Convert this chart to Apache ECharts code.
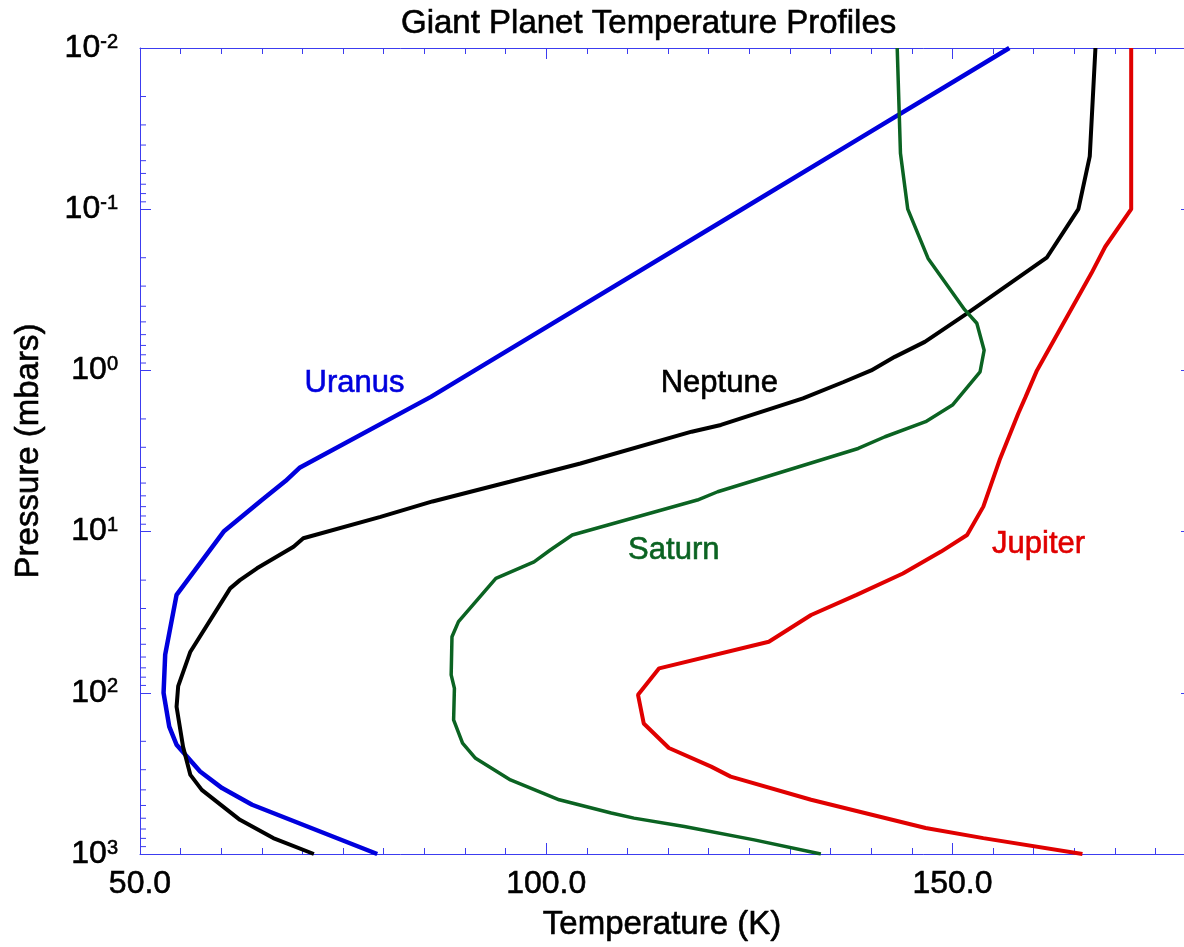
<!DOCTYPE html>
<html>
<head>
<meta charset="utf-8">
<script src="https://cdn.jsdelivr.net/npm/echarts@6/dist/echarts.min.js"></script>
<style>
html,body{margin:0;padding:0;background:#fff;}
#chart{width:1184px;height:947px;}
</style>
</head>
<body>
<div id="chart"></div>
<script>
// ---------------- data (pressure in mbar, temperature in K) ----------------
const uranusP = [0.01, 0.0373, 0.1, 1.0, 1.46, 4.0, 4.86, 6.37, 10, 24.7, 58, 100, 162, 210, 308, 390, 495, 1000];
const uranusT = [157.0, 138.2, 124.1, 91.2, 85.8, 69.7, 67.9, 65.0, 60.3, 54.5, 53.1, 52.9, 53.6, 54.5, 57.4, 60.1, 63.8, 79.2];

const neptuneP = [0.01, 0.047, 0.1, 0.2, 0.44, 0.665, 0.824, 1.0, 1.18, 1.49, 2.18, 2.40, 3.78, 4.91, 6.5, 8.1, 11, 12.4, 16.9, 20, 22.5, 55.6, 91, 122, 216, 323, 400, 614, 797, 1000];
const neptuneT = [167.6, 166.9, 165.5, 161.6, 151.9, 146.6, 142.9, 140.0, 136.6, 131.6, 121.5, 117.9, 104.2, 95.5, 86.0, 79.6, 70.1, 68.9, 64.4, 62.3, 61.1, 56.2, 54.7, 54.5, 55.3, 56.2, 57.6, 62.3, 66.4, 71.4];

const saturnP = [0.01, 0.045, 0.1, 0.202, 0.42, 0.51, 0.75, 1.02, 1.64, 2.08, 2.58, 3.05, 5.66, 6.37, 10.5, 13.0, 15.4, 19.5, 36.2, 44.9, 77.4, 93.8, 147, 205, 255, 347, 461, 557, 599, 676, 817, 1000];
const saturnT = [143.2, 143.6, 144.5, 147.0, 151.5, 153.0, 153.9, 153.4, 150.0, 146.7, 141.7, 138.4, 121.1, 118.6, 103.2, 100.5, 98.5, 93.8, 89.2, 88.4, 88.3, 88.7, 88.6, 89.7, 91.3, 95.6, 101.6, 108.0, 110.8, 117.0, 125.6, 133.8];

const jupiterP = [0.01, 0.1, 0.171, 0.25, 1.0, 1.46, 1.85, 3.6, 7.0, 10.5, 13.3, 18.2, 24.7, 32.9, 48.2, 70.5, 103, 155, 220, 287, 331, 461, 557, 690, 797, 1000];
const jupiterT = [172.0, 172.0, 168.8, 167.1, 160.4, 159.0, 158.1, 155.8, 153.8, 151.8, 148.6, 143.9, 138.2, 132.6, 127.4, 113.9, 111.3, 112.0, 115.1, 120.3, 122.7, 132.6, 139.2, 146.7, 153.8, 166.0];

const planetNames = ['Uranus', 'Neptune', 'Saturn', 'Jupiter'];
const xTickValues = [50, 100, 150];
const xTickLabels = ['50.0', '100.0', '150.0'];
const yDecades = [-2, -1, 0, 1, 2, 3];
const minorMultipliers = [2, 3, 4, 5, 6, 7, 8, 9];

// ---------------- styling / layout ----------------
const FONT = 'Liberation Sans, Arial, Helvetica, sans-serif';
const AX = '#3c3cf0';
const X_MIN = 50, X_MAX = 178.5;
const colors = {Uranus: '#0000dd', Neptune: '#000000', Saturn: '#0b6322', Jupiter: '#e00000'};
const widths = {Uranus: 4.5, Neptune: 4, Saturn: 3.5, Jupiter: 4};
// label anchor points in data coordinates [T, p]
const labelAnchors = {Uranus: [76.4, 1.2], Neptune: [121.3, 1.2], Saturn: [115.7, 13.0], Jupiter: [160.6, 12.1]};
const heavy = c => ({textBorderColor: c, textBorderWidth: 0.6});

const seriesData = {
  Uranus: uranusT.map((t, i) => [t, uranusP[i]]),
  Neptune: neptuneT.map((t, i) => [t, neptuneP[i]]),
  Saturn: saturnT.map((t, i) => [t, saturnP[i]]),
  Jupiter: jupiterT.map((t, i) => [t, jupiterP[i]])
};

// minor tick positions for the log axis
const minorTickVals = [];
yDecades.slice(0, -1).forEach(d => minorMultipliers.forEach(m => minorTickVals.push(m * Math.pow(10, d))));

const chart = echarts.init(document.getElementById('chart'), null, {renderer: 'canvas'});

const lineSeries = planetNames.map(name => ({
  name: name,
  type: 'line',
  xAxisIndex: 0,
  yAxisIndex: 0,
  data: seriesData[name],
  showSymbol: false,
  symbol: 'none',
  smooth: false,
  lineStyle: {color: colors[name], width: widths[name]},
  itemStyle: {color: colors[name]},
  z: 3,
  markPoint: {
    silent: true,
    symbol: 'circle',
    symbolSize: 1,
    itemStyle: {color: 'rgba(0,0,0,0)'},
    label: Object.assign({
      show: true, position: 'inside', formatter: name,
      color: colors[name], fontSize: 31, fontFamily: FONT
    }, heavy(colors[name])),
    data: [{coord: labelAnchors[name]}]
  }
}));

const tickSeries = {
  type: 'custom',
  xAxisIndex: 0,
  yAxisIndex: 0,
  silent: true,
  clip: false,
  z: 1,
  data: minorTickVals.map(v => [X_MIN, v]),
  encode: {x: 0, y: 1},
  renderItem: function (params, api) {
    const pt = api.coord([api.value(0), api.value(1)]);
    return {
      type: 'line',
      shape: {x1: pt[0], y1: pt[1], x2: pt[0] + 6, y2: pt[1]},
      style: {stroke: AX, lineWidth: 1}
    };
  }
};

const xAxisBase = {
  type: 'value', min: X_MIN, max: X_MAX, interval: 50,
  axisLine: {show: true, onZero: false, lineStyle: {color: AX, width: 1}},
  axisTick: {show: true, inside: true, length: 11, lineStyle: {color: AX, width: 1}},
  minorTick: {show: true, splitNumber: 10, length: 6, lineStyle: {color: AX, width: 1}},
  splitLine: {show: false},
  minorSplitLine: {show: false}
};

const option = {
  animation: false,
  backgroundColor: '#ffffff',
  title: {
    text: 'Giant Planet Temperature Profiles',
    left: 396, top: 2,
    textStyle: Object.assign({fontFamily: FONT, fontSize: 33, fontWeight: 'normal', color: '#000'}, heavy('#000'))
  },
  grid: {left: 140, right: 0, top: 48, bottom: 93, containLabel: false},
  xAxis: [
    Object.assign({}, xAxisBase, {
      position: 'bottom',
      axisLabel: Object.assign({
        show: true, margin: 14, fontSize: 32, fontFamily: FONT, color: '#000',
        showMaxLabel: false,
        formatter: function (v) {
          const i = xTickValues.indexOf(Math.round(v * 1000) / 1000);
          return i >= 0 ? xTickLabels[i] : '';
        }
      }, heavy('#000')),
      name: 'Temperature (K)',
      nameLocation: 'middle',
      nameGap: 54,
      nameTextStyle: Object.assign({fontFamily: FONT, fontSize: 33, color: '#000'}, heavy('#000'))
    }),
    Object.assign({}, xAxisBase, {
      position: 'top',
      axisLabel: {show: false}
    })
  ],
  yAxis: [
    {
      type: 'log', logBase: 10, min: 0.01, max: 1000, inverse: true, position: 'left',
      axisLine: {show: true, onZero: false, lineStyle: {color: AX, width: 1}},
      axisTick: {show: true, inside: true, length: 11, lineStyle: {color: AX, width: 1}},
      splitLine: {show: false},
      axisLabel: {
        show: true, margin: 22, color: '#000', fontFamily: FONT,
        formatter: function (v) {
          const e = Math.round(Math.log10(v));
          return '{b|10}{s|' + e + '}';
        },
        rich: {
          b: Object.assign({fontSize: 32, fontFamily: FONT, color: '#000', lineHeight: 32}, heavy('#000')),
          s: Object.assign({fontSize: 20, fontFamily: FONT, color: '#000', lineHeight: 18, verticalAlign: 'top'}, heavy('#000'))
        }
      },
      name: 'Pressure (mbars)',
      nameLocation: 'middle',
      nameRotate: 90,
      nameGap: 95,
      nameTextStyle: Object.assign({fontFamily: FONT, fontSize: 33, color: '#000'}, heavy('#000'))
    },
    {
      type: 'log', logBase: 10, min: 0.01, max: 1000, inverse: true, position: 'right',
      axisLine: {show: false},
      axisTick: {show: true, inside: true, length: 3, lineStyle: {color: AX, width: 1}},
      axisLabel: {show: false},
      splitLine: {show: false}
    }
  ],
  series: lineSeries.concat([tickSeries])
};

chart.setOption(option);
</script>
</body>
</html>
